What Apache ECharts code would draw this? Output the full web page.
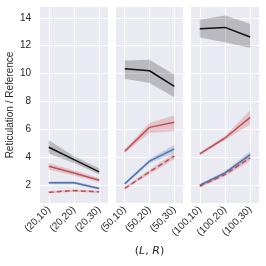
<!DOCTYPE html>
<html><head><meta charset="utf-8">
<script src="https://cdn.jsdelivr.net/npm/echarts@6/dist/echarts.min.js"></script>
<style>html,body{margin:0;padding:0;background:#fff}#c{width:266px;height:266px}</style>
</head><body><div id="c"></div>
<script>
const panelLabels = [
  ['(20,10)','(20,20)','(20,30)'],
  ['(50,10)','(50,20)','(50,30)'],
  ['(100,10)','(100,20)','(100,30)']
];
const yTicks = [2,4,6,8,10,12,14];
// values per panel: [panel][category]
const blackMean = [[4.74,3.85,2.98],[10.36,10.21,9.09],[13.21,13.31,12.62]];
const blackLo   = [[4.29,3.62,2.79],[9.64,9.34,8.31],[12.59,12.24,11.84]];
const blackHi   = [[5.24,4.09,3.24],[10.95,11.0,9.93],[13.86,14.16,13.57]];
const redMean   = [[3.38,2.90,2.38],[4.45,6.16,6.52],[4.26,5.40,6.88]];
const redLo     = [[3.14,2.72,2.23],[4.33,5.76,5.88],[4.16,5.25,6.36]];
const redHi     = [[3.62,3.08,2.53],[4.57,6.48,7.02],[4.36,5.55,7.38]];
const blueMean  = [[2.19,2.20,1.79],[2.12,3.74,4.62],[2.02,2.90,4.21]];
const blueLo    = [[2.09,2.10,1.69],[2.02,3.59,4.32],[1.92,2.78,3.96]];
const blueHi    = [[2.29,2.30,1.89],[2.22,3.89,4.92],[2.12,3.02,4.46]];
const dashMean  = [[1.52,1.64,1.55],[1.79,2.98,4.10],[1.95,2.79,3.98]];
const dashLo    = [[1.44,1.56,1.47],[1.69,2.83,3.88],[1.87,2.67,3.76]];
const dashHi    = [[1.60,1.72,1.63],[1.89,3.13,4.32],[2.03,2.91,4.20]];

const FONT = 'Liberation Sans';
const lefts = [40, 116, 191];
const widths = [68, 67, 68];
const grids = lefts.map((l,i)=>({left:l, width:widths[i], top:7, height:196, show:true, backgroundColor:'#eaeaf2', borderWidth:0}));
const xAxes = lefts.map((l,i)=>({
  type:'value', gridIndex:i, min:-0.35, max:2.35,
  axisLine:{show:false},
  axisTick:{show:false, customValues:[0,1,2]},
  axisLabel:{customValues:[0,1,2], rotate:45, margin:5, fontSize:10, color:'#262626', fontFamily:FONT,
    formatter:(v)=>panelLabels[i][Math.round(v)]},
  splitLine:{show:true, lineStyle:{color:'#ffffff', width:1}},
  name: i===1 ? '{p|(}{i|L}{p|, }{i|R}{p|)}' : '',
  nameLocation:'middle', nameGap:43,
  nameTextStyle:{rich:{p:{fontSize:11,fontFamily:'DejaVu Sans',color:'#262626'},i:{fontSize:11,fontFamily:'DejaVu Sans',fontStyle:'italic',color:'#262626'}}}
}));
const yAxes = lefts.map((l,i)=>({
  type:'value', gridIndex:i, min:0.75, max:14.77,
  axisLine:{show:false},
  axisTick:{show:false, customValues:yTicks},
  axisLabel:{show:i===0, customValues:yTicks, margin:9, fontSize:10, color:'#262626', fontFamily:FONT},
  splitLine:{show:true, lineStyle:{color:'#ffffff', width:1}},
  name: i===0 ? 'Reticulation / Reference' : '',
  nameLocation:'middle', nameGap:25,
  nameTextStyle:{fontSize:10, color:'#262626', fontFamily:FONT}
}));

const series = [];
function band(p, lo, hi, color, z){
  series.push({
    type:'custom', xAxisIndex:p, yAxisIndex:p, z:z, silent:true,
    data:[[0]],
    renderItem:(params, api)=>{
      const pts = [];
      for (let k=0;k<3;k++) pts.push(api.coord([k, hi[p][k]]));
      for (let k=2;k>=0;k--) pts.push(api.coord([k, lo[p][k]]));
      return {type:'polygon', shape:{points:pts}, style:{fill:color, stroke:null}};
    }
  });
}
function line(p, mean, color, dashed, z){
  series.push({
    type:'line', xAxisIndex:p, yAxisIndex:p, z:z, silent:true,
    data: mean[p].map((v,k)=>[k,v]),
    symbol:'none',
    lineStyle:{color:color, width:1.5, type: dashed ? [5,3] : 'solid'}
  });
}
for (let p=0;p<3;p++){
  band(p, blackLo, blackHi, 'rgba(40,40,40,0.25)', 1);
  band(p, redLo, redHi, 'rgba(196,78,82,0.25)', 1);
  band(p, blueLo, blueHi, 'rgba(76,114,176,0.25)', 1);
  band(p, dashLo, dashHi, 'rgba(196,78,82,0.25)', 1);
  line(p, blackMean, '#111111', false, 3);
  line(p, redMean, '#c44e52', false, 3);
  line(p, blueMean, '#4c72b0', false, 3);
  line(p, dashMean, '#c44e52', true, 3);
}

const chart = echarts.init(document.getElementById('c'), null, {renderer:'canvas'});
chart.setOption({animation:false, backgroundColor:'#ffffff', grid:grids, xAxis:xAxes, yAxis:yAxes, series:series});
</script>
</body></html>
